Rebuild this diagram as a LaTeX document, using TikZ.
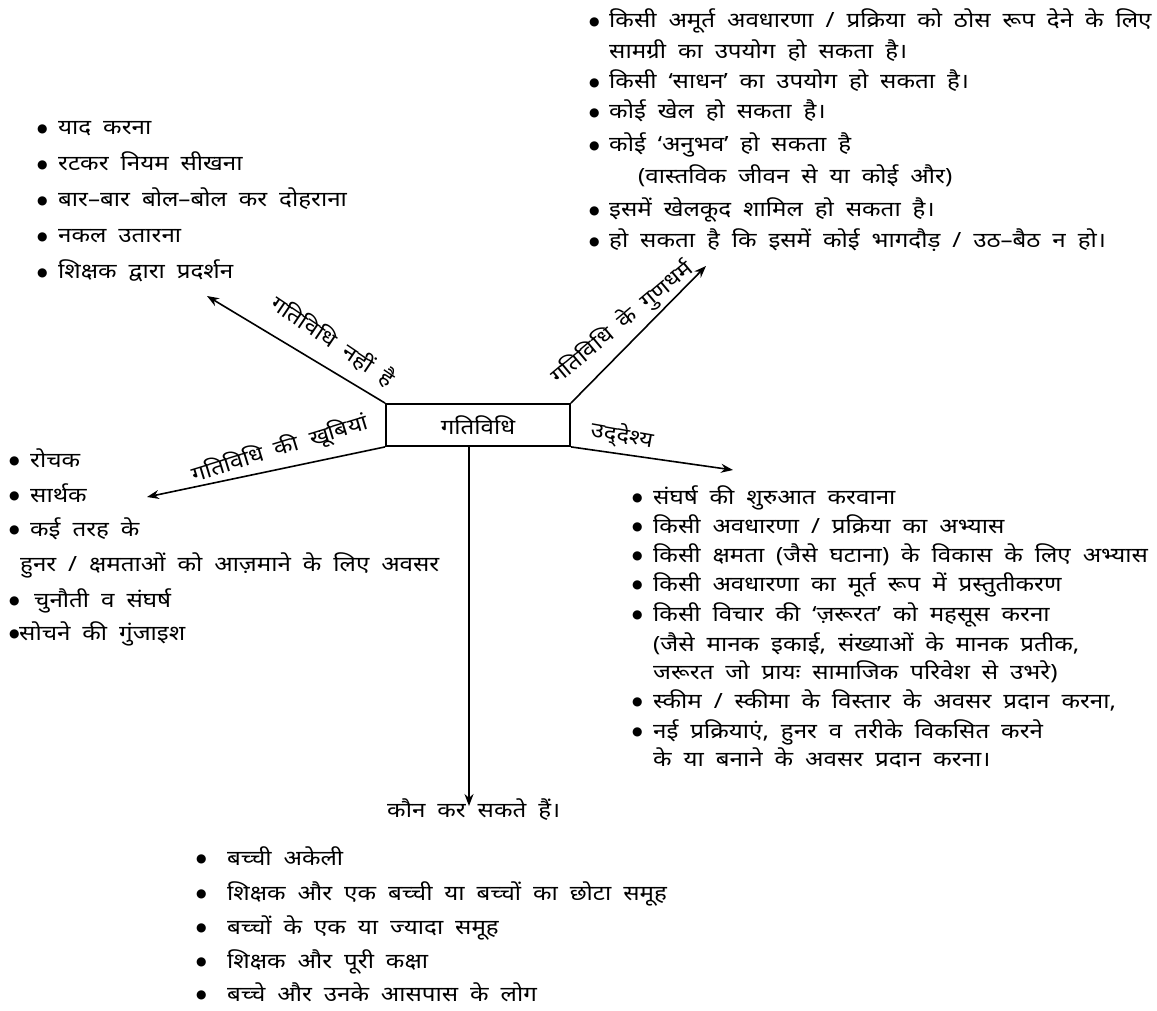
\documentclass[tikz,border=0pt]{standalone}
\usepackage{fontspec}
\newfontfamily\dev{Noto Sans}[Script=Devanagari, FakeStretch=1.15, WordSpace=1.9]
\newfontfamily\sym{DejaVu Sans}
\usetikzlibrary{arrows.meta}
\newcommand\bul[1]{\makebox[#1][l]{\raisebox{2.5pt}{\sym\fontsize{12}{12}\selectfont ●}}}
\begin{document}
\begin{tikzpicture}[x=1pt,y=-1pt,
  txt/.style={anchor=base west, inner sep=0pt, font=\dev\fontsize{21}{24}\selectfont},
  lbl/.style={inner sep=0pt, font=\dev\fontsize{21}{24}\selectfont},
  conn/.style={line width=1.6pt, -{Stealth[length=12pt,width=9pt]}},
  mainbox/.style={draw, line width=1.8pt, minimum width=184pt, minimum height=42pt, inner sep=0pt, font=\dev\fontsize{21}{24}\selectfont}]
\useasboundingbox (0,0) rectangle (1157,1011);
% centre box
\node[mainbox] (box) at (478,425) {गतिविधि};
% arrow tips
\coordinate (tUL) at (207,296);
\coordinate (tUR) at (706,266);
\coordinate (tL) at (147,497);
\coordinate (tR) at (733,470);
\coordinate (tD) at (469,806);
\draw[conn] (box.north west) -- (tUL);
\draw[conn] (box.north east) -- (tUR);
\draw[conn] (box.south west) -- (tL);
\draw[conn] (box.south east) -- (tR);
\draw[conn] (box.south -| tD) -- (tD);
% branch labels
\node[lbl, rotate=-34] (lUL) at (333,341) {गतिविधि नहीं है};
\node[lbl, rotate=40] (lUR) at (622,323) {गतिविधि के गुणधर्म};
\node[lbl, rotate=17] (lL) at (280,449) {गतिविधि की खूबियां};
\node[lbl, rotate=-10] (lR) at (622,436) {उद्^^^^200cदेश्य};
% upper left list
\node[txt] (ul1) at (37,135) {\bul{21pt}याद करना};
\node[txt] (ul2) at (37,171) {\bul{21pt}रटकर नियम सीखना};
\node[txt] (ul3) at (37,207) {\bul{21pt}बार–बार बोल–बोल कर दोहराना};
\node[txt] (ul4) at (37,243) {\bul{21pt}नकल उतारना};
\node[txt] (ul5) at (37,279) {\bul{21pt}शिक्षक द्वारा प्रदर्शन};
% upper right list
\node[txt] (ur1) at (589,28) {\bul{20pt}किसी अमूर्त अवधारणा / प्रक्रिया को ठोस रूप देने के लिए};
\node[txt] (ur1b) at (609,59) {सामग्री का उपयोग हो सकता है।};
\node[txt] (ur2) at (589,89) {\bul{20pt}किसी ‘साधन’ का उपयोग हो सकता है।};
\node[txt] (ur3) at (589,119) {\bul{20pt}कोई खेल हो सकता है।};
\node[txt] (ur4) at (589,152) {\bul{20pt}कोई ‘अनुभव’ हो सकता है};
\node[txt] (ur4b) at (638,184) {(वास्तविक जीवन से या कोई और)};
\node[txt] (ur5) at (589,217) {\bul{20pt}इसमें खेलकूद शामिल हो सकता है।};
\node[txt] (ur6) at (589,248) {\bul{20pt}हो सकता है कि इसमें कोई भागदौड़ / उठ–बैठ न हो।};
% left list
\node[txt] (l1) at (9,467) {\bul{21pt}रोचक};
\node[txt] (l2) at (9,502) {\bul{21pt}सार्थक};
\node[txt] (l3) at (9,536) {\bul{21pt}कई तरह के};
\node[txt] (l3b) at (20,571) {हुनर / क्षमताओं को आज़माने के लिए अवसर};
\node[txt] (l4) at (9,607) {\bul{25pt}चुनौती व संघर्ष};
\node[txt] (l5) at (9,640) {\bul{10pt}सोचने की गुंजाइश};
% right list
\node[txt] (r1) at (632,504) {\bul{21pt}संघर्ष की शुरुआत करवाना};
\node[txt] (r2) at (632,533) {\bul{21pt}किसी अवधारणा / प्रक्रिया का अभ्यास};
\node[txt] (r3) at (632,562) {\bul{21pt}किसी क्षमता (जैसे घटाना) के विकास के लिए अभ्यास};
\node[txt] (r4) at (632,591) {\bul{21pt}किसी अवधारणा का मूर्त रूप में प्रस्तुतीकरण};
\node[txt] (r5) at (632,621) {\bul{21pt}किसी विचार की ‘ज़रूरत’ को महसूस करना};
\node[txt] (r5b) at (653,651) {(जैसे मानक इकाई, संख्याओं के मानक प्रतीक,};
\node[txt] (r5c) at (653,679) {जरूरत जो प्रायः सामाजिक परिवेश से उभरे)};
\node[txt] (r6) at (632,708) {\bul{21pt}स्कीम / स्कीमा के विस्तार के अवसर प्रदान करना,};
\node[txt] (r7) at (632,738) {\bul{21pt}नई प्रक्रियाएं, हुनर व तरीके विकसित करने};
\node[txt] (r7b) at (653,766) {के या बनाने के अवसर प्रदान करना।};
% bottom
\node[txt] (who) at (387,817) {कौन कर सकते हैं।};
\node[txt] (b1) at (196,865) {\bul{31pt}बच्ची अकेली};
\node[txt] (b2) at (196,900) {\bul{31pt}शिक्षक और एक बच्ची या बच्चों का छोटा समूह};
\node[txt] (b3) at (196,934) {\bul{31pt}बच्चों के एक या ज्यादा समूह};
\node[txt] (b4) at (196,968) {\bul{31pt}शिक्षक और पूरी कक्षा};
\node[txt] (b5) at (196,1001) {\bul{31pt}बच्चे और उनके आसपास के लोग};
\end{tikzpicture}
\end{document}
